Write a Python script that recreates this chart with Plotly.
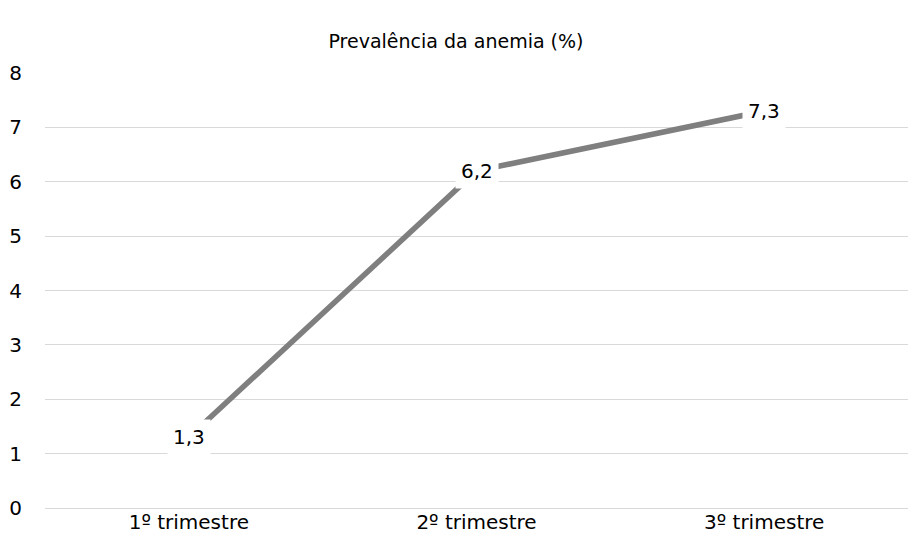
import plotly.graph_objects as go

categories = ["1º trimestre", "2º trimestre", "3º trimestre"]
values = [1.3, 6.2, 7.3]
title_text = "Prevalência da anemia (%)"
y_ticks = [0, 1, 2, 3, 4, 5, 6, 7, 8]

FONT = "DejaVu Sans, sans-serif"

fig = go.Figure()
fig.add_trace(go.Scatter(
    x=[0, 1, 2], y=values, mode="lines",
    line=dict(color="#7f7f7f", width=5.5),
    hoverinfo="skip", showlegend=False,
))

for i, v in enumerate(values):
    fig.add_annotation(
        x=i, y=v, xref="x", yref="y",
        text=f"{v:.1f}".replace(".", ","),
        showarrow=False, bgcolor="white",
        font=dict(family=FONT, size=20, color="#000000"),
        borderpad=5,
    )

fig.update_layout(
    width=912, height=547,
    margin=dict(l=45, r=4, t=73, b=39),
    paper_bgcolor="white", plot_bgcolor="white",
    separators=",.",
    title=dict(text=title_text, x=0.5, xanchor="center", y=0.925, yanchor="middle",
               font=dict(family=FONT, size=19, color="#000000")),
    font=dict(family=FONT, size=20, color="#000000"),
    xaxis=dict(range=[-0.5, 2.5], tickvals=[0, 1, 2], ticktext=categories,
               showgrid=False, showline=False, zeroline=False, ticks="",
               automargin=False,
               tickfont=dict(family=FONT, size=20, color="#000000")),
    yaxis=dict(range=[0, 8], tickvals=y_ticks, showgrid=True, gridcolor="#d9d9d9",
               gridwidth=1, zeroline=True, zerolinecolor="#d9d9d9", zerolinewidth=1,
               showline=False, ticks="",
               automargin=False, ticklabelstandoff=22,
               tickfont=dict(family=FONT, size=20, color="#000000")),
)

fig.write_html("out.html")
